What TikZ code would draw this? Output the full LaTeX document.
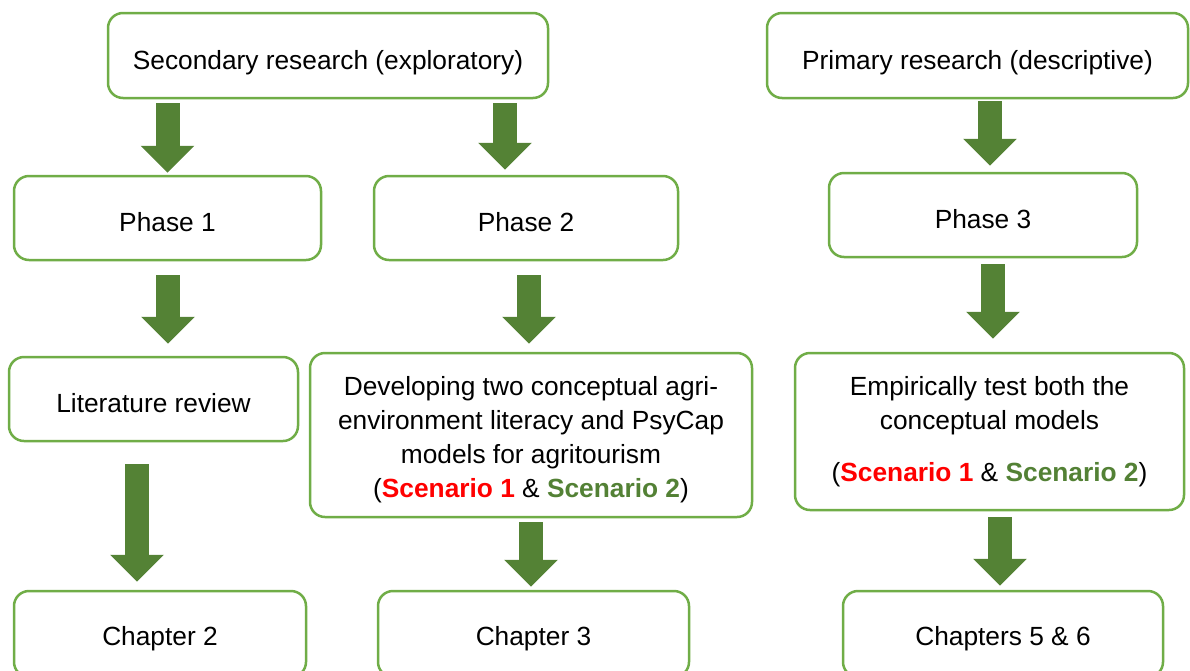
\documentclass[tikz,border=0pt]{standalone}
\usepackage{fontspec}
\setmainfont{Liberation Sans}
\usetikzlibrary{arrows.meta,calc}
\definecolor{boxgreen}{HTML}{70AD47}
\definecolor{arrowgreen}{HTML}{548235}
\definecolor{scenred}{HTML}{FF0000}
\definecolor{scengreen}{HTML}{538135}
\newcommand{\scenone}{\textcolor{scenred}{\textbf{Scenario 1}}}
\newcommand{\scentwo}{\textcolor{scengreen}{\textbf{Scenario 2}}}
\begin{document}
\begin{tikzpicture}[x=1pt,y=-1pt,
  stagebox/.style={draw=boxgreen, line width=2.5pt, rounded corners=15pt, fill=white,
    align=center, inner sep=0pt,
    font=\fontsize{26.3pt}{34pt}\selectfont},
  % single-line text sits a little below the middle of its box
  oneline/.style={text height=#1, text depth=0pt},
  oneline/.default=27pt,
  blockarrow/.style={draw=arrowgreen, line width=24pt,
    -{Triangle[width=52pt,length=27pt,fill=arrowgreen]}}
]
\useasboundingbox (0,0) rectangle (1190,670);

% boxes
\node[stagebox, oneline, minimum width=440pt, minimum height=85pt] (sec) at (328,55.5) {Secondary research (exploratory)};
\node[stagebox, oneline, minimum width=421pt, minimum height=85pt] (pri) at (977.5,55.5) {Primary research (descriptive)};
\node[stagebox, oneline, minimum width=307pt, minimum height=84pt] (p1) at (167.5,218) {Phase 1};
\node[stagebox, oneline, minimum width=304pt, minimum height=84pt] (p2) at (526,218) {Phase 2};
\node[stagebox, oneline, minimum width=308pt, minimum height=84pt] (p3) at (983,215) {Phase 3};
\node[stagebox, oneline, minimum width=289pt, minimum height=84pt] (lit) at (153.5,399) {Literature review};
\node[stagebox, minimum width=442pt, minimum height=164pt] (dev) at (531,435)
  {\rule{0pt}{29pt}Developing two conceptual agri-\\environment literacy and PsyCap\\models for agritourism\\(\scenone{} \& \scentwo)};
\node[stagebox, minimum width=389pt, minimum height=157pt] (emp) at (989.5,431.5)
  {Empirically test both the\\conceptual models\\[18pt](\scenone{} \& \scentwo)};
\node[stagebox, oneline=22pt, minimum width=292pt, minimum height=86pt] (ch2) at (160,634) {Chapter 2};
\node[stagebox, oneline=22pt, minimum width=311pt, minimum height=86pt] (ch3) at (533.5,634) {Chapter 3};
\node[stagebox, oneline=22pt, minimum width=320pt, minimum height=86pt] (ch56) at (1003,634) {Chapters 5 \& 6};

% block arrows between stages
\draw[blockarrow] ($(sec.south -| p1.north)+(0,4)$) -- ($(p1.north)+(0,-2)$);
\draw[blockarrow] ($(sec.south -| p2.north)+(-21,4)$) -- ($(p2.north)+(-21,-5)$);
\draw[blockarrow] ($(pri.south -| p3.north)+(7,2)$) -- ($(p3.north)+(7,-6)$);
\draw[blockarrow] ($(p1.south)+(0.5,14)$) -- ($(lit.north -| p1.south)+(0.5,-12)$);
\draw[blockarrow] ($(p2.south -| dev.north)+(-2,14)$) -- ($(dev.north)+(-2,-8)$);
\draw[blockarrow] ($(p3.south)+(10,6)$) -- ($(emp.north -| p3.south)+(10,-13)$);
\draw[blockarrow] ($(lit.south)+(-16.5,22)$) -- ($(ch2.north -| lit.south)+(-16.5,-8)$);
\draw[blockarrow] ($(dev.south)+(0,4)$) -- ($(ch3.north -| dev.south)+(0,-3)$);
\draw[blockarrow] ($(emp.south -| ch56.north)+(-3,6)$) -- ($(ch56.north)+(-3,-4)$);
\end{tikzpicture}
\end{document}
